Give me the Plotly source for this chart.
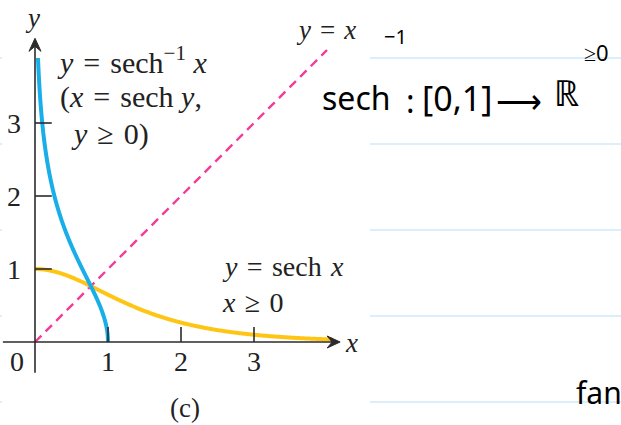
import numpy as np
import plotly.graph_objects as go

# ---- data -------------------------------------------------------------
# y = sech x for x >= 0
sech_x = np.linspace(0.0, 4.08, 240)
sech_y = 1.0 / np.cosh(sech_x)

# y = sech^-1 x, drawn parametrically as x = sech y, y >= 0
inv_y = np.linspace(0.0, 3.89, 240)
inv_x = 1.0 / np.cosh(inv_y)

# y = x reference line
diag_x = [0.0, 4.0]
diag_y = [0.0, 4.0]

x_ticks = [1, 2, 3]
y_ticks = [1, 2, 3]
x_tick_labels = ["1", "2", "3"]
y_tick_labels = ["1", "2", "3"]

# ---- scale: 73 px per unit, origin at pixel (35, 342) -----------------
W, H = 621, 425
PX = 73.0
OX, OY = 35.0, 342.0
x_range = [-OX / PX, (W - OX) / PX]
y_range = [-(H - OY) / PX, OY / PX]

BLUE = "#1aaee8"
GOLD = "#ffc515"
PINK = "#f23c98"
AXIS = "#2b2b2b"
SERIF = "Liberation Serif"
HAND = "Noto Sans"
SP = "\u2004"  # slightly wider than a normal space, around relations

fig = go.Figure()

fig.add_trace(go.Scatter(x=diag_x, y=diag_y, mode="lines",
                         line=dict(color=PINK, width=2.4, dash="9px,6px"),
                         hoverinfo="skip"))
fig.add_trace(go.Scatter(x=sech_x, y=sech_y, mode="lines",
                         line=dict(color=GOLD, width=4, shape="spline"),
                         hoverinfo="skip"))
fig.add_trace(go.Scatter(x=inv_x, y=inv_y, mode="lines",
                         line=dict(color=BLUE, width=4, shape="spline"),
                         hoverinfo="skip"))

shapes = []
# axis lines
x_axis_end, y_axis_end = 4.18, 4.16
shapes.append(dict(type="line", xref="x", yref="y", x0=-0.44, x1=x_axis_end - 0.08,
                   y0=0, y1=0, line=dict(color=AXIS, width=1.6)))
shapes.append(dict(type="line", xref="x", yref="y", x0=0, x1=0,
                   y0=-0.42, y1=y_axis_end - 0.08, line=dict(color=AXIS, width=1.6)))

# concave arrowheads (sizes in pixels converted to axis units)
L, HW, N = 13 / PX, 6 / PX, 8 / PX
xe, ye = x_axis_end, y_axis_end
shapes.append(dict(type="path", xref="x", yref="y",
                   path=f"M {xe},0 L {xe - L},{HW} L {xe - N},0 L {xe - L},{-HW} Z",
                   fillcolor=AXIS, line=dict(color=AXIS, width=1)))
shapes.append(dict(type="path", xref="x", yref="y",
                   path=f"M 0,{ye} L {HW},{ye - L} L 0,{ye - N} L {-HW},{ye - L} Z",
                   fillcolor=AXIS, line=dict(color=AXIS, width=1)))

# tick marks
for t in x_ticks:
    shapes.append(dict(type="line", xref="x", yref="y", x0=t, x1=t, y0=0, y1=0.205,
                       line=dict(color=AXIS, width=1.6)))
for t in y_ticks:
    shapes.append(dict(type="line", xref="x", yref="y", x0=0, x1=0.23, y0=t, y1=t,
                       line=dict(color=AXIS, width=1.6)))

# ruled notebook lines on the right-hand side
for py in [58, 144, 230, 316, 402]:
    shapes.append(dict(type="line", xref="paper", yref="paper",
                       x0=370 / W, x1=1.0, y0=1 - py / H, y1=1 - py / H,
                       line=dict(color="#cfe9fb", width=1.5)))
    shapes.append(dict(type="line", xref="paper", yref="paper",
                       x0=0, x1=2 / W, y0=1 - py / H, y1=1 - py / H,
                       line=dict(color="#cfe9fb", width=1.5)))

annotations = []


def label(text, x, y, size=26, xanchor="center"):
    annotations.append(dict(x=x, y=y, xref="x", yref="y", text=text, showarrow=False,
                            xanchor=xanchor, yanchor="middle",
                            font=dict(family=SERIF, size=size, color="#222")))


# tick labels
for t, s in zip(x_ticks, x_tick_labels):
    label(s, t, -0.27, size=28)
for t, s in zip(y_ticks, y_tick_labels):
    label(s, -0.29, t, size=28)
label("0", -0.25, -0.27, size=28)

# axis names
label("<i>y</i>", -0.03, 4.44, size=27)
label("<i>x</i>", 4.33, -0.01, size=27)

# curve labels
label(f"<i>y</i>{SP}={SP}<i>x</i>", 3.55, 4.28, size=27, xanchor="left")
label(f"<i>y</i>{SP}={SP}sech<sup>−1</sup> <i>x</i>", 0.27, 3.86, size=30, xanchor="left")
label(f"(<i>x</i>{SP}={SP}sech <i>y</i>,", 0.31, 3.35, size=30, xanchor="left")
label(f"<i>y</i>{SP}≥{SP}0)", 0.46, 2.85, size=30, xanchor="left")
label(f"<i>y</i>{SP}={SP}sech{SP}<i>x</i>", 2.53, 1.03, size=28, xanchor="left")
label(f"<i>x</i>{SP}≥{SP}0", 2.53, 0.54, size=28, xanchor="left")
label("(c)", 2.05, -0.9, size=27)


# handwritten note: domain and range of sech^-1
def note(text, px, py, size, xanchor="left"):
    annotations.append(dict(x=px / W, y=1 - py / H, xref="paper", yref="paper",
                            text=text, showarrow=False, xanchor=xanchor,
                            yanchor="middle",
                            font=dict(family=HAND, size=size, color="#000")))


note("sech", 320, 97, 32)
note("−1", 382, 36, 20)
note(":", 404, 100, 32)
note("[0,1]", 420, 98, 34)
note("⟶", 494, 100, 32)
note("ℝ", 552, 93, 36)
note("≥0", 582, 52, 22)
note("fan", 574, 392, 30)

fig.update_layout(
    width=W, height=H,
    margin=dict(l=0, r=0, t=0, b=0),
    paper_bgcolor="white", plot_bgcolor="white",
    showlegend=False,
    xaxis=dict(range=x_range, visible=False, fixedrange=True),
    yaxis=dict(range=y_range, visible=False, fixedrange=True),
    shapes=shapes, annotations=annotations,
)

fig.write_html("out.html")
